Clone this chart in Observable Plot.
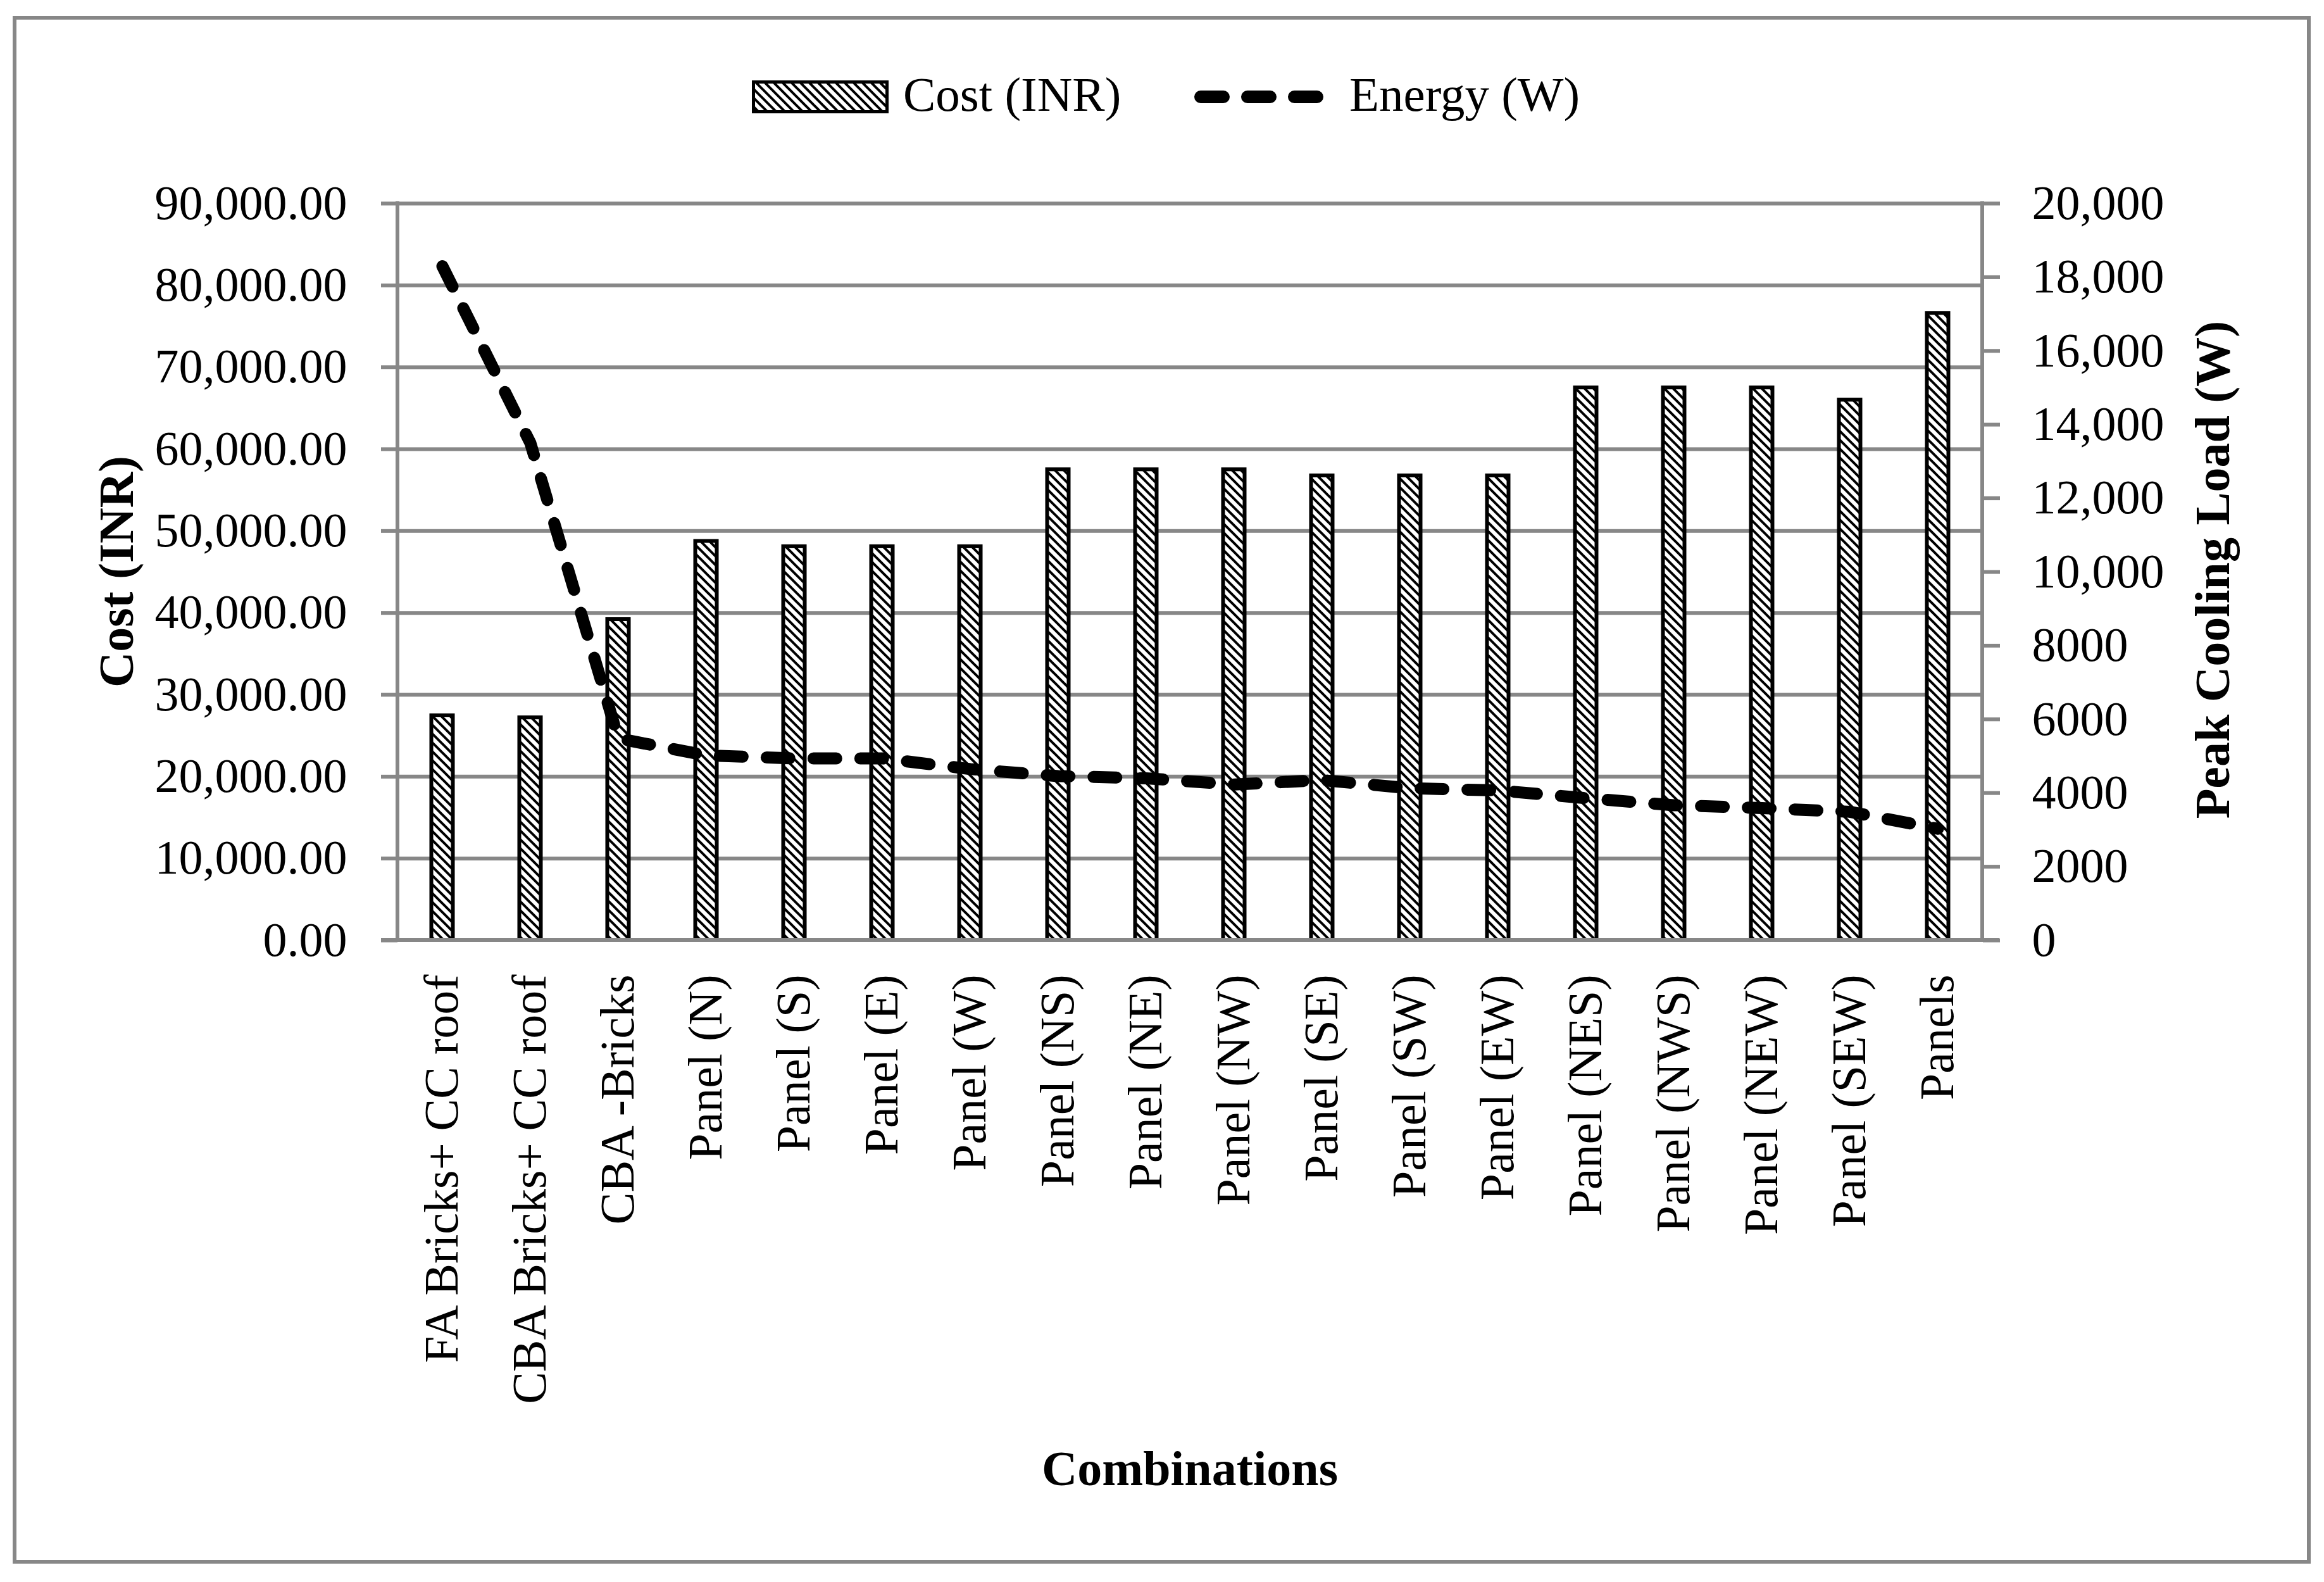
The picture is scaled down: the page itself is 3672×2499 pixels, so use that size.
<!DOCTYPE html>
<html>
<head>
<meta charset="utf-8">
<script src="https://cdn.jsdelivr.net/npm/d3@7"></script>
<script src="https://cdn.jsdelivr.net/npm/@observablehq/plot@0.6"></script>
<style>
  html, body { margin: 0; padding: 0; background: #ffffff; overflow: hidden; }
  #wrap { position: relative; width: 3672px; height: 2499px; background: #ffffff; }
  #border { position: absolute; left: 20px; top: 25px; width: 3631px; height: 2445px; border: 6px solid #878787; box-sizing: border-box; }
  #wrap svg { position: absolute; left: 0; top: 0; }
</style>
</head>
<body>
<div id="wrap"><div id="border"></div></div>
<script>
// ---------------- data ----------------
const categories = [
  "FA Bricks+ CC roof", "CBA Bricks+ CC roof", "CBA -Bricks",
  "Panel (N)", "Panel (S)", "Panel (E)", "Panel (W)",
  "Panel (NS)", "Panel (NE)", "Panel (NW)", "Panel (SE)", "Panel (SW)", "Panel (EW)",
  "Panel (NES)", "Panel (NWS)", "Panel (NEW)", "Panel (SEW)", "Panels"
];
const costINR = [27450, 27200, 39200, 48750, 48100, 48100, 48100,
                 57500, 57500, 57500, 56750, 56750, 56750,
                 67500, 67500, 67500, 66000, 76600];
const energyW = [18300, 13500, 5480, 5020, 4940, 4940, 4650,
                 4460, 4400, 4230, 4350, 4130, 4070,
                 3860, 3670, 3590, 3490, 3030];
const leftTicks = [0, 10000, 20000, 30000, 40000, 50000, 60000, 70000, 80000, 90000];
const leftTickLabels = ["0.00", "10,000.00", "20,000.00", "30,000.00", "40,000.00",
                        "50,000.00", "60,000.00", "70,000.00", "80,000.00", "90,000.00"];
const rightTicks = [0, 2000, 4000, 6000, 8000, 10000, 12000, 14000, 16000, 18000, 20000];
const rightTickLabels = ["0", "2000", "4000", "6000", "8000", "10,000",
                         "12,000", "14,000", "16,000", "18,000", "20,000"];
const seriesNames = ["Cost (INR)", "Energy (W)"];
const titles = { left: "Cost (INR)", right: "Peak Cooling Load (W)", x: "Combinations" };

// ---------------- setup ----------------
const GRID = "#878787";
const FONT = '"Liberation Serif", "Times New Roman", serif';
const LEFT_MAX = leftTicks[leftTicks.length - 1];
const RIGHT_MAX = rightTicks[rightTicks.length - 1];
const K = LEFT_MAX / RIGHT_MAX; // secondary axis mapping

const data = categories.map((c, i) => ({ category: c, cost: costINR[i], energy: energyW[i] }));
const leftLabelOf = new Map(leftTicks.map((v, i) => [v, leftTickLabels[i]]));
const rightLabelOf = new Map(rightTicks.map((v, i) => [v * K, rightTickLabels[i]]));

function frameLines(index, scales, values, dims) {
  const l = dims.marginLeft, r = dims.width - dims.marginRight;
  const t = dims.marginTop, b = dims.height - dims.marginBottom;
  const g = d3.create("svg:g").attr("stroke", GRID).attr("stroke-width", 6).attr("fill", "none");
  g.append("line").attr("x1", l).attr("x2", l).attr("y1", t - 3).attr("y2", b);
  g.append("line").attr("x1", r).attr("x2", r).attr("y1", t - 3).attr("y2", b);
  g.append("line").attr("x1", l - 26).attr("x2", r + 27).attr("y1", b).attr("y2", b);
  return g.node();
}

const chart = Plot.plot({
  width: 3672,
  height: 2499,
  marginLeft: 628,
  marginRight: 540,
  marginTop: 321,
  marginBottom: 1014,
  style: { fontFamily: FONT, fontSize: "76px", background: "transparent", color: "black", overflow: "visible" },
  x: { type: "band", domain: categories, padding: 0, label: null },
  y: { domain: [0, LEFT_MAX], label: null },
  marks: [
    Plot.gridY(leftTicks.filter(d => d > 0), { stroke: GRID, strokeOpacity: 1, strokeWidth: 6 }),
    Plot.barY(data, { x: "category", y: "cost", fill: "url(#hatch)", stroke: "black", strokeWidth: 6, insetLeft: 52.5, insetRight: 52.5 }),
    frameLines,
    Plot.lineY(data, { x: "category", y: d => d.energy * K, stroke: "black", strokeWidth: 19,
                       strokeDasharray: "36,38", strokeLinecap: "round", strokeLinejoin: "round" }),
    Plot.axisY(leftTicks, { anchor: "left", tickSize: 26, tickPadding: 54, tickFormat: d => leftLabelOf.get(d),
                            stroke: GRID, strokeWidth: 6, fill: "black", label: null, fontSize: 76 }),
    Plot.axisY(rightTicks.map(v => v * K), { anchor: "right", tickSize: 27, tickPadding: 51, tickFormat: d => rightLabelOf.get(d),
                            stroke: GRID, strokeWidth: 6, fill: "black", label: null, fontSize: 76 }),
    Plot.axisX({ tickRotate: -90, tickSize: 0, tickPadding: 54, fill: "black", label: null, fontSize: 76 })
  ]
});

// hatch pattern for bars
function addHatch(svgSel, id) {
  const defs = svgSel.insert("defs", ":first-child");
  const p = defs.append("pattern").attr("id", id).attr("patternUnits", "userSpaceOnUse")
    .attr("width", 14).attr("height", 14);
  p.append("rect").attr("width", 14).attr("height", 14).attr("fill", "white");
  p.append("path").attr("d", "M0,0 L14,14 M-7,7 L7,21 M7,-7 L21,7")
    .attr("stroke", "black").attr("stroke-width", 4).attr("fill", "none");
}
const sel = d3.select(chart);
addHatch(sel, "hatch");

// axis titles
sel.append("text").attr("transform", "translate(210,903) rotate(-90)")
  .attr("text-anchor", "middle").attr("font-family", FONT).attr("font-weight", "bold")
  .attr("font-size", 78).attr("fill", "black").text(titles.left);
sel.append("text").attr("transform", "translate(3522,900) rotate(-90)")
  .attr("text-anchor", "middle").attr("font-family", FONT).attr("font-weight", "bold")
  .attr("font-size", 78).attr("fill", "black").text(titles.right);
sel.append("text").attr("x", 1880).attr("y", 2346)
  .attr("text-anchor", "middle").attr("font-family", FONT).attr("font-weight", "bold")
  .attr("font-size", 78).attr("fill", "black").text(titles.x);

document.getElementById("wrap").appendChild(chart);

// legend
const leg = d3.select("#wrap").append("svg").attr("width", 3672).attr("height", 260);
addHatch(leg, "hatchLegend");
leg.append("rect").attr("x", 1190.5).attr("y", 129.5).attr("width", 211).attr("height", 47)
  .attr("fill", "url(#hatchLegend)").attr("stroke", "black").attr("stroke-width", 5);
leg.append("text").attr("x", 1427).attr("y", 175).attr("font-family", FONT).attr("font-size", 77)
  .attr("fill", "black").text(seriesNames[0]);
leg.append("line").attr("x1", 1897).attr("x2", 2085).attr("y1", 153).attr("y2", 153)
  .attr("stroke", "black").attr("stroke-width", 20).attr("stroke-linecap", "round")
  .attr("stroke-dasharray", "36,38");
leg.append("text").attr("x", 2132).attr("y", 175).attr("font-family", FONT).attr("font-size", 77)
  .attr("fill", "black").text(seriesNames[1]);
</script>
</body>
</html>
